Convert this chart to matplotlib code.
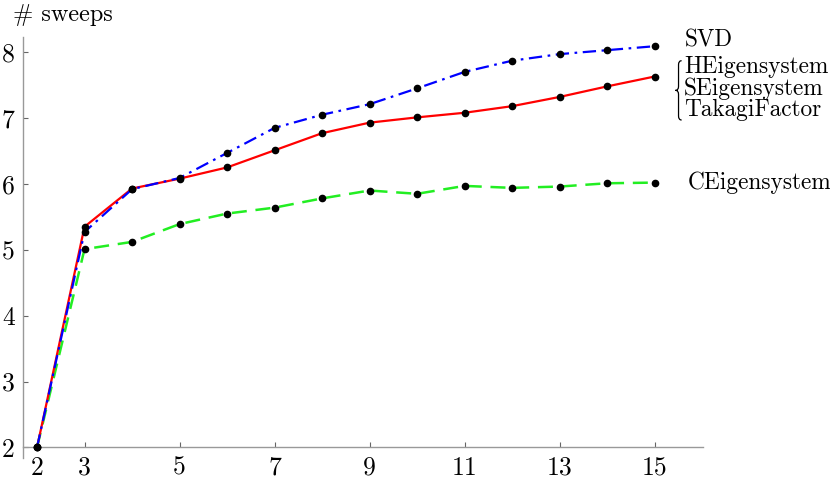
import matplotlib
matplotlib.use("Agg")
import matplotlib.pyplot as plt
from matplotlib.path import Path
from matplotlib.patches import PathPatch

x = [2, 3, 4, 5, 6, 7, 8, 9, 10, 11, 12, 13, 14, 15]
svd = [2, 5.27, 5.92, 6.09, 6.47, 6.85, 7.05, 7.21, 7.45, 7.70, 7.87, 7.97, 8.03, 8.09]
heig = [2, 5.35, 5.93, 6.08, 6.25, 6.51, 6.77, 6.93, 7.01, 7.08, 7.18, 7.32, 7.48, 7.63]
ceig = [2, 5.01, 5.12, 5.39, 5.55, 5.64, 5.78, 5.90, 5.85, 5.97, 5.94, 5.96, 6.01, 6.02]
xticks = [2, 3, 5, 7, 9, 11, 13, 15]
yticks = [2, 3, 4, 5, 6, 7, 8]

plt.rcParams['font.family'] = ['cmr10', 'DejaVu Serif']
plt.rcParams['axes.formatter.use_mathtext'] = True

fig = plt.figure(figsize=(8.3, 4.79), dpi=100)
ax = fig.add_axes([23/830, 21/479, (703-23)/830, (458-37)/479])
ax.set_xlim(1.705, 16.02)
ax.set_ylim(1.84, 8.23)

grey = '#999999'
ax.plot(x, ceig, color='#22ee22', lw=1.8, dashes=(6, 3.5), zorder=2)
ax.plot(x, heig, color='#ff0000', lw=1.6, zorder=3)
ax.plot(x, svd, color='#0000ff', lw=1.6, dashes=(6, 2.5, 1.2, 2.5), zorder=4)
for ys in (ceig, heig, svd):
    ax.plot(x, ys, 'o', color='black', ms=4.5, zorder=5)

for s in ('top', 'right'):
    ax.spines[s].set_visible(False)
ax.spines['bottom'].set_position(('data', 2))
for s in ('left', 'bottom'):
    ax.spines[s].set_color(grey)
    ax.spines[s].set_linewidth(1.0)

ax.set_xticks(xticks)
ax.set_yticks(yticks)
ax.set_xticklabels([str(v) for v in xticks])
ax.set_yticklabels([str(v) for v in yticks])
ax.tick_params(axis='both', direction='in', color='#666666', width=0.8, length=3.5,
               labelsize=18.5)
ax.tick_params(axis='x', pad=6)
ax.tick_params(axis='y', pad=6)

fig.text(13/830, 1 - 21/479, '# sweeps', fontsize=17.5, va='baseline', ha='left')

fs = 16.8
ax.text(15.64, 8.18, 'SVD', fontsize=fs, va='center', ha='left')
ax.text(15.62, 7.78, 'HEigensystem', fontsize=fs, va='center', ha='left')
ax.text(15.62, 7.45, 'SEigensystem', fontsize=fs, va='center', ha='left')
ax.text(15.62, 7.12, 'TakagiFactor', fontsize=fs, va='center', ha='left')
ax.text(15.70, 6.02, 'CEigensystem', fontsize=fs, va='center', ha='left')

# brace
xr, xl = 15.57, 15.44
xm = (xr + xl) / 2
ytop, ybot = 7.87, 6.97
ymid = (ytop + ybot) / 2
d = 0.06
verts = [(xr, ytop), (xm, ytop), (xm, ytop - d),
         (xm, ymid + d), (xm, ymid), (xl, ymid),
         (xm, ymid), (xm, ymid - d),
         (xm, ybot + d), (xm, ybot), (xr, ybot)]
codes = [Path.MOVETO, Path.CURVE3, Path.CURVE3,
         Path.LINETO, Path.CURVE3, Path.CURVE3,
         Path.CURVE3, Path.CURVE3,
         Path.LINETO, Path.CURVE3, Path.CURVE3]
ax.add_patch(PathPatch(Path(verts, codes), fill=False, lw=0.9, color='black',
                       clip_on=False))

fig.savefig('out.png', dpi=100)
